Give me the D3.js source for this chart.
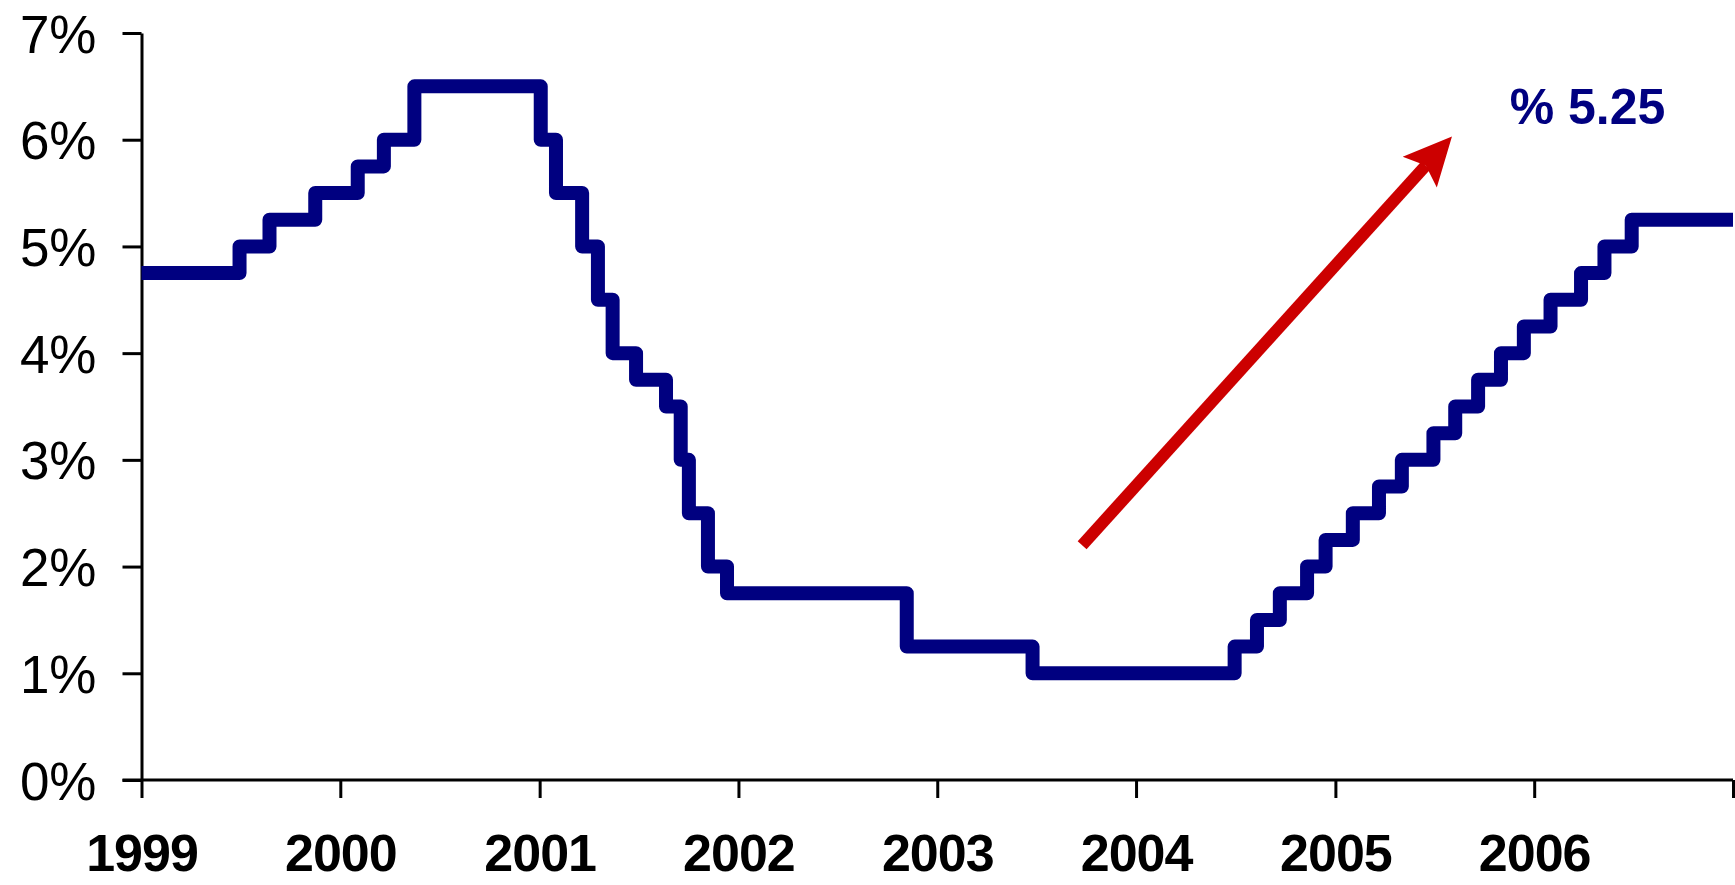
<!DOCTYPE html>
<html>
  <head>
    <meta charset="UTF-8">
    <title>Fed Funds Rate 1999-2006</title>
    <style>
      * { margin: 0; padding: 0; overflow: hidden; }
      body { background: #fff; }
    </style>
    <script src="https://d3js.org/d3.v7.min.js"></script>
  </head>
  <body>
    <script type="text/javascript">
      // rate change dates and target rate (%)
      const changeDates = [
        "1999-01-01", "1999-06-30", "1999-08-24", "1999-11-16", "2000-02-02",
        "2000-03-21", "2000-05-16", "2001-01-03", "2001-01-31", "2001-03-20",
        "2001-04-18", "2001-05-15", "2001-06-27", "2001-08-21", "2001-09-17",
        "2001-10-02", "2001-11-06", "2001-12-11", "2002-11-06", "2003-06-25",
        "2004-06-30", "2004-08-10", "2004-09-21", "2004-11-10", "2004-12-14",
        "2005-02-02", "2005-03-22", "2005-05-03", "2005-06-30", "2005-08-09",
        "2005-09-20", "2005-11-01", "2005-12-13", "2006-01-31", "2006-03-28",
        "2006-05-10", "2006-06-29", "2007-01-01"
      ];
      const rates = [
        4.75, 5.00, 5.25, 5.50, 5.75,
        6.00, 6.50, 6.00, 5.50, 5.00,
        4.50, 4.00, 3.75, 3.50, 3.00,
        2.50, 2.00, 1.75, 1.25, 1.00,
        1.25, 1.50, 1.75, 2.00, 2.25,
        2.50, 2.75, 3.00, 3.25, 3.50,
        3.75, 4.00, 4.25, 4.50, 4.75,
        5.00, 5.25, 5.25
      ];
      const yearTicks = [1999, 2000, 2001, 2002, 2003, 2004, 2005, 2006, 2007];
      const yearLabels = ["1999", "2000", "2001", "2002", "2003", "2004", "2005", "2006", ""];
      const rateTicks = [0, 1, 2, 3, 4, 5, 6, 7];

      // annotation (date, rate)
      const arrowFrom = ["2003-09-24", 2.2];
      const arrowTo = ["2005-08-03", 6.03];
      const noteAt = ["2005-11-17", 6.15];
      const noteText = "% 5.25";

      const WIDTH = 1735;
      const HEIGHT = 885;
      const parse = d3.timeParse("%Y-%m-%d");
      const data = changeDates.map((d, i) => ({ date: parse(d), rate: rates[i] }));

      const svg = d3.select("body").append("svg")
        .attr("width", WIDTH)
        .attr("height", HEIGHT);

      const x = d3.scaleTime()
        .domain([new Date(1999, 0, 1), new Date(2007, 0, 1)])
        .range([141.5, 1733]);
      const y = d3.scaleLinear()
        .domain([0, 7])
        .range([780, 33]);

      // y axis
      const yAxis = svg.append("g")
        .attr("transform", `translate(${x.range()[0]},0)`)
        .call(d3.axisLeft(y)
          .tickValues(rateTicks)
          .tickFormat((d) => d + "%")
          .tickSize(19)
          .tickSizeOuter(0)
          .tickPadding(26));
      yAxis.selectAll("path, line").attr("stroke", "#000").attr("stroke-width", 3);
      yAxis.selectAll("text")
        .attr("font-family", "'Liberation Sans', Arial, sans-serif")
        .attr("font-size", 53)
        .attr("fill", "#000")
        .attr("dy", "0.36em");

      // x axis
      const xAxis = svg.append("g")
        .attr("transform", `translate(0,${y(0)})`)
        .call(d3.axisBottom(x)
          .tickValues(yearTicks.map((yr) => new Date(yr, 0, 1)))
          .tickFormat((d, i) => yearLabels[i])
          .tickSize(18)
          .tickSizeOuter(0)
          .tickPadding(36));
      xAxis.selectAll("path, line").attr("stroke", "#000").attr("stroke-width", 3);
      xAxis.select(".domain").attr("d", `M${x.range()[0] - 19},0H${x.range()[1]}`);
      xAxis.selectAll("text")
        .attr("font-family", "'Liberation Sans', Arial, sans-serif")
        .attr("font-weight", "bold")
        .attr("font-size", 52)
        .attr("letter-spacing", -1)
        .attr("fill", "#000");

      // rate line
      const line = d3.line()
        .x((d) => x(d.date))
        .y((d) => y(d.rate))
        .curve(d3.curveStepAfter);
      svg.append("path")
        .datum(data)
        .attr("d", line)
        .attr("fill", "none")
        .attr("stroke", "#000080")
        .attr("stroke-width", 14)
        .attr("stroke-linejoin", "round");

      // red arrow
      const x0 = x(parse(arrowFrom[0])), y0 = y(arrowFrom[1]);
      const x1 = x(parse(arrowTo[0])), y1 = y(arrowTo[1]);
      const ang = Math.atan2(y1 - y0, x1 - x0);
      const headLen = 48, headHalf = 23, notch = 9;
      const ux = Math.cos(ang), uy = Math.sin(ang);
      const bx = x1 - ux * headLen, by = y1 - uy * headLen;
      svg.append("line")
        .attr("x1", x0).attr("y1", y0)
        .attr("x2", bx + ux * notch).attr("y2", by + uy * notch)
        .attr("stroke", "#cc0000")
        .attr("stroke-width", 12);
      const head = d3.path();
      head.moveTo(x1, y1);
      head.lineTo(bx - uy * headHalf, by + ux * headHalf);
      head.lineTo(bx + ux * notch, by + uy * notch);
      head.lineTo(bx + uy * headHalf, by - ux * headHalf);
      head.closePath();
      svg.append("path")
        .attr("d", head.toString())
        .attr("fill", "#cc0000");

      svg.append("text")
        .attr("x", x(parse(noteAt[0])))
        .attr("y", y(noteAt[1]))
        .attr("font-family", "'Liberation Sans', Arial, sans-serif")
        .attr("font-weight", "bold")
        .attr("font-size", 50)
        .attr("fill", "#000080")
        .text(noteText);
    </script>
  </body>
</html>
